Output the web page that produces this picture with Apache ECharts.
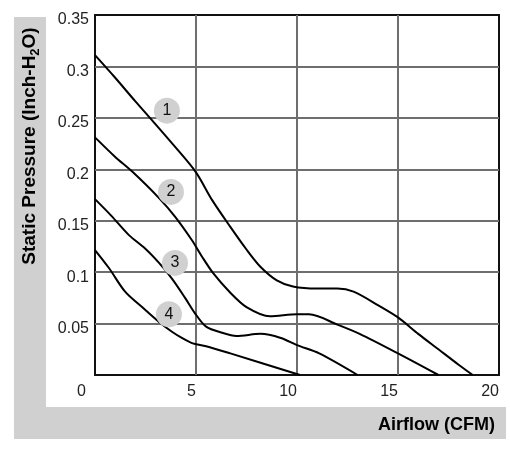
<!DOCTYPE html>
<html>
<head>
<meta charset="utf-8">
<script src="https://cdn.jsdelivr.net/npm/echarts@6/dist/echarts.min.js"></script>
<style>html,body{margin:0;padding:0;background:#fff;}#c{width:510px;height:453px;}</style>
</head>
<body>
<div id="c"></div>
<script>
// Fan curves: [airflow CFM, static pressure inch-H2O]
var curve1 = [[0,0.311],[1,0.289],[2,0.266],[2.72,0.25],[4,0.221],[5,0.197],[5.8,0.17],[6.7,0.144],[7.5,0.122],[8.2,0.105],[9,0.092],[9.8,0.086],[11,0.084],[12,0.084],[12.8,0.081],[14,0.068],[15,0.056],[16,0.04],[17,0.025],[18,0.01],[18.7,0]];
var curve2 = [[0,0.231],[1,0.212],[1.83,0.198],[3.17,0.172],[3.96,0.154],[4.8,0.131],[5.3,0.115],[5.85,0.099],[6.7,0.08],[7.5,0.066],[8.66,0.057],[10,0.059],[10.6,0.059],[12,0.049],[13.1,0.04],[15,0.021],[17,0]];
var curve3 = [[0,0.171],[0.8,0.155],[1.68,0.136],[2.48,0.123],[3.17,0.109],[3.8,0.094],[4.46,0.075],[4.95,0.060],[5.5,0.047],[6.3,0.041],[7,0.038],[8.2,0.04],[9.2,0.036],[10,0.029],[11.1,0.021],[13,0]];
var curve4 = [[0,0.1215],[0.69,0.104],[1.49,0.081],[2.33,0.066],[3.17,0.0515],[3.81,0.042],[4.3,0.036],[4.8,0.031],[5.5,0.028],[6.7,0.021],[10.15,0]];
var curveNames = ['1','2','3','4'];
var badgePos = [[3.56,0.257],[3.76,0.178],[3.96,0.109],[3.66,0.059]];
var xTicks = {min:0, max:20, interval:5};
var yTicks = {min:0, max:0.35, interval:0.05};

var chart = echarts.init(document.getElementById('c'));
var lineStyleBase = {color:'#000', width:2};
var curves = [curve1, curve2, curve3, curve4];
var series = curves.map(function(d, i){
  return {type:'line', name:curveNames[i], data:d, showSymbol:false, smooth:0.3,
    lineStyle:lineStyleBase, itemStyle:{color:'#000'}, z:3, silent:true};
});
series.push({
  type:'scatter', z:5, silent:true,
  data: badgePos.map(function(p,i){ return [p[0], p[1], curveNames[i]]; }),
  symbolSize:26, itemStyle:{color:'#d0d0d0', opacity:1},
  label:{show:true, position:'inside', formatter:function(p){return p.value[2];}, color:'#111', fontSize:16, fontFamily:'Liberation Sans, Arial, sans-serif'}
});
chart.setOption({
  animation:false,
  backgroundColor:'#fff',
  textStyle:{fontFamily:'Liberation Sans, Arial, sans-serif'},
  graphic:[
    {type:'rect', z:-10, shape:{x:14, y:17, width:32, height:422}, style:{fill:'#d0d0d0'}},
    {type:'rect', z:-10, shape:{x:14, y:407, width:492, height:32}, style:{fill:'#d0d0d0'}},
    {type:'text', z:10, x:495, y:425, style:{text:'Airflow (CFM)', font:'bold 18px Liberation Sans, Arial, sans-serif', fill:'#000', align:'right', verticalAlign:'middle'}},
    {type:'text', z:10, x:30, y:146, rotation:Math.PI/2,
      style:{text:'{a|Static Pressure (Inch-H}{s|2}{a|O)}', align:'center', verticalAlign:'middle',
        rich:{a:{font:'bold 19px Liberation Sans, Arial, sans-serif', fill:'#000', verticalAlign:'middle'},
              s:{font:'bold 13px Liberation Sans, Arial, sans-serif', fill:'#000', padding:[10,0,0,0]}}}}
  ],
  grid:{left:95, right:11, top:15, bottom:78, show:true, borderColor:'#111', borderWidth:2, backgroundColor:'#fff'},
  xAxis:{type:'value', min:xTicks.min, max:xTicks.max, interval:xTicks.interval,
    axisLine:{show:false}, axisTick:{show:false},
    splitLine:{show:true, showMinLine:false, showMaxLine:false, lineStyle:{color:'#6e6e6e', width:2}},
    axisLabel:{color:'#222', fontSize:16, margin:9, align:'right',
      formatter:function(v){ return v===0 ? '{z|0}' : String(v); },
      rich:{z:{fontSize:16, color:'#222', padding:[0,9,0,0]}}}},
  yAxis:{type:'value', min:yTicks.min, max:yTicks.max, interval:yTicks.interval,
    axisLine:{show:false}, axisTick:{show:false},
    splitLine:{show:true, showMinLine:false, showMaxLine:false, lineStyle:{color:'#6e6e6e', width:2}},
    axisLabel:{color:'#222', fontSize:16, margin:6, showMinLabel:false, verticalAlign:'top', lineHeight:10}},
  series:series
});
</script>
</body>
</html>
